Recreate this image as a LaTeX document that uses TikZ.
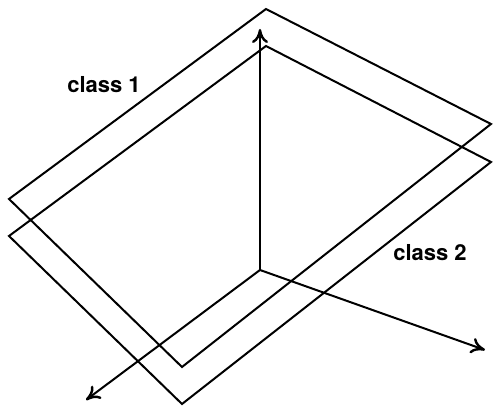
\documentclass[tikz,border=0pt]{standalone}
\usepackage{fontspec}
\newfontfamily\classfont{TeX Gyre Heros}
\usepackage{tikz}
\usetikzlibrary{
  arrows.meta
}
\tikzset{
  class plane/.style={
    line width=1pt,
    line join=miter
  },
  feature axis/.style={
    line width=1pt,
    -{To[length=7pt,width=8pt,line width=1.2pt]}
  },
  class label/.style={
    font=\classfont\bfseries\fontsize{11}{13}\selectfont,
    inner sep=0pt
  }
}

\begin{document}
\begin{tikzpicture}[x=0.5pt,y=-0.5pt]

    \useasboundingbox (0,0) rectangle (494,406);

    % ---------- 2 つのクラス平面 ----------
    % class 1 (上側)
    \draw[class plane]
      (266,9) -- (491,124)
      -- (182,367) -- (9,199)
      -- cycle;

    % class 2 (下側)
    \draw[class plane]
      (266,46) -- (491,162)
      -- (182,404) -- (9,236)
      -- cycle;

    % ---------- 座標軸 ----------
    \coordinate (O) at (260,270);
    \coordinate (Zup) at (260,29);
    \coordinate (Xright) at (485,350);
    \coordinate (Yleft) at (86,400);

    \draw[feature axis] (O) -- (Zup);
    \draw[feature axis] (O) -- (Xright);
    \draw[feature axis] (O) -- (Yleft);

    % ---------- ラベル ----------
    \node[class label] (class1) at (104,85) {class 1};
    \node[class label] (class2) at (430,253) {class 2};

\end{tikzpicture}
\end{document}
